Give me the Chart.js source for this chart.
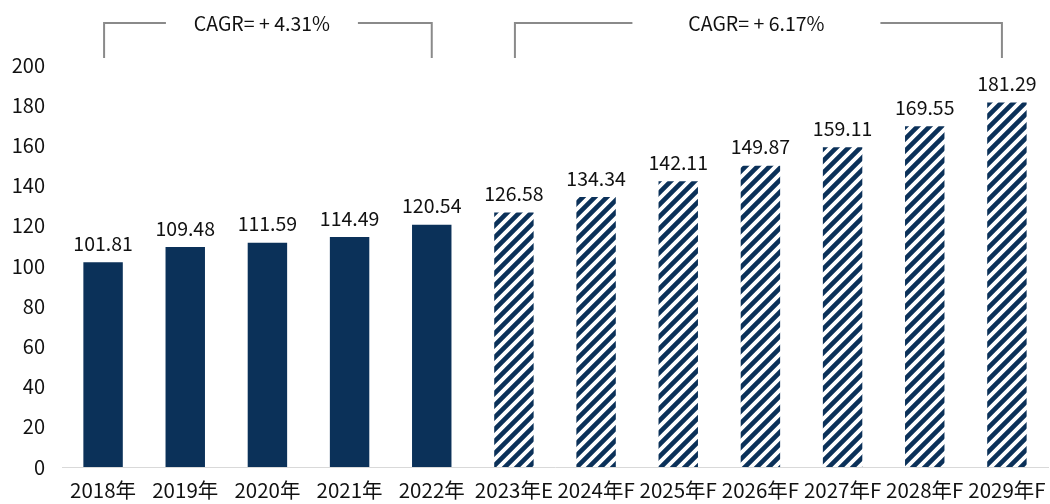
<!DOCTYPE html>
<html>
<head>
<meta charset="utf-8">
<script src="https://cdn.jsdelivr.net/npm/chart.js@4"></script>
<style>
  html, body { margin: 0; padding: 0; background: #fff; }
  #wrap { width: 1050px; height: 504px; }
</style>
</head>
<body>
<div id="wrap"><canvas id="chart"></canvas></div>
<script>
const categories = ['2018年', '2019年', '2020年', '2021年', '2022年', '2023年E', '2024年F', '2025年F', '2026年F', '2027年F', '2028年F', '2029年F'];
const values = [101.81, 109.48, 111.59, 114.49, 120.54, 126.58, 134.34, 142.11, 149.87, 159.11, 169.55, 181.29];
const isForecast = [false, false, false, false, false, true, true, true, true, true, true, true];
const yTicks = [0, 20, 40, 60, 80, 100, 120, 140, 160, 180, 200];
const cagrGroups = [
  { from: 0, to: 4, label: 'CAGR= + 4.31%' },
  { from: 5, to: 11, label: 'CAGR= + 6.17%' }
];

const NAVY = '#0b3159';
const FONT = '"Noto Sans CJK SC", "Noto Sans", sans-serif';

// diagonal stripe pattern for forecast bars
function makeHatch() {
  const s = 12;
  const c = document.createElement('canvas');
  c.width = s; c.height = s;
  const g = c.getContext('2d');
  g.strokeStyle = NAVY;
  g.lineWidth = 4.6;
  g.beginPath();
  g.moveTo(-2, s + 2); g.lineTo(s + 2, -2);
  g.moveTo(-2, 2); g.lineTo(2, -2);
  g.moveTo(s - 2, s + 2); g.lineTo(s + 2, s - 2);
  g.stroke();
  return g.createPattern(c, 'repeat');
}
const hatch = makeHatch();

const valueLabels = {
  id: 'valueLabels',
  afterDatasetsDraw(chart) {
    const ctx = chart.ctx;
    const meta = chart.getDatasetMeta(0);
    ctx.save();
    ctx.font = '19.5px ' + FONT;
    ctx.fillStyle = '#111';
    ctx.textAlign = 'center';
    ctx.textBaseline = 'bottom';
    meta.data.forEach((bar, i) => {
      ctx.fillText(values[i].toFixed(2), bar.x, bar.y - 9);
    });
    ctx.restore();
  }
};

// bracket style per group: text offset, gap around text, end trims
const bracketStyle = [
  { shift: -6, gap: 96, trimR: 0 },
  { shift: -2, gap: 124, trimR: 5 }
];

const cagrBrackets = {
  id: 'cagrBrackets',
  afterDraw(chart) {
    const ctx = chart.ctx;
    const meta = chart.getDatasetMeta(0);
    const yLine = 23, yEnd = 58;
    ctx.save();
    ctx.strokeStyle = '#8a8a8a';
    ctx.lineWidth = 2;
    ctx.font = '19.5px ' + FONT;
    ctx.fillStyle = '#111';
    ctx.textAlign = 'center';
    ctx.textBaseline = 'middle';
    cagrGroups.forEach((g, k) => {
      const st = bracketStyle[k];
      const x1 = meta.data[g.from].x + 1;
      const x2 = meta.data[g.to].x - st.trimR;
      const mid = (x1 + x2) / 2 + st.shift;
      ctx.beginPath();
      ctx.moveTo(x1, yEnd); ctx.lineTo(x1, yLine); ctx.lineTo(mid - st.gap, yLine);
      ctx.moveTo(mid + st.gap, yLine); ctx.lineTo(x2, yLine); ctx.lineTo(x2, yEnd);
      ctx.stroke();
      ctx.fillText(g.label, mid, yLine + 1);
    });
    ctx.restore();
  }
};

new Chart(document.getElementById('chart'), {
  type: 'bar',
  data: {
    labels: categories,
    datasets: [{
      data: values,
      backgroundColor: isForecast.map(f => f ? hatch : NAVY),
      borderWidth: 0,
      categoryPercentage: 1,
      barPercentage: 0.48
    }]
  },
  options: {
    responsive: true,
    maintainAspectRatio: false,
    animation: false,
    layout: { padding: { top: 65, right: 2, left: 12, bottom: 0 } },
    plugins: {
      legend: { display: false },
      tooltip: { enabled: false }
    },
    scales: {
      x: {
        afterFit(scale) { scale.height = 37; scale.paddingLeft = 0; scale.paddingRight = 0; },
        grid: { display: false, drawTicks: false },
        border: { display: true, color: '#d9d9d9', width: 1 },
        ticks: {
          color: '#111',
          font: { family: FONT, size: 20.5 },
          padding: 11,
          maxRotation: 0,
          autoSkip: false
        }
      },
      y: {
        min: 0,
        max: 200,
        afterBuildTicks(scale) { scale.ticks = yTicks.map(v => ({ value: v })); },
        afterFit(scale) { scale.width = 50; },
        grid: { display: false, drawTicks: false },
        border: { display: false },
        ticks: {
          color: '#111',
          font: { family: FONT, size: 20 },
          padding: 17
        }
      }
    }
  },
  plugins: [valueLabels, cagrBrackets]
});
</script>
</body>
</html>
